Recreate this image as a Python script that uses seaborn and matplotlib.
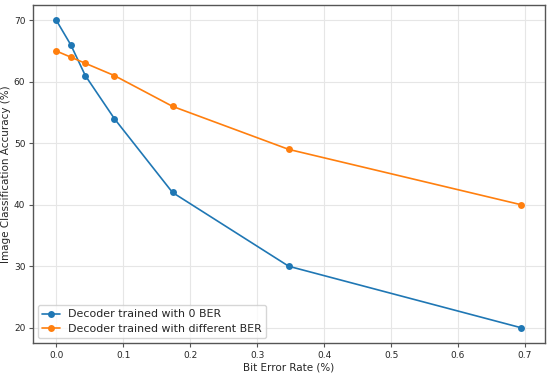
import matplotlib
matplotlib.use("Agg")
import matplotlib.pyplot as plt
import pandas as pd
import seaborn as sns

# ── Data ──────────────────────────────────────────────────────────────────────
BER = [0.0, 0.0217, 0.0434, 0.0868, 0.1736, 0.3472, 0.6944]
ACC_ZERO_BER = [70, 66, 61, 54, 42, 30, 20]
ACC_DIFF_BER = [65, 64, 63, 61, 56, 49, 40]
LABELS = ["Decoder trained with 0 BER", "Decoder trained with different BER"]

df = pd.concat([
    pd.DataFrame({"ber": BER, "acc": ACC_ZERO_BER, "model": LABELS[0]}),
    pd.DataFrame({"ber": BER, "acc": ACC_DIFF_BER, "model": LABELS[1]}),
])

# ── Plot ──────────────────────────────────────────────────────────────────────
sns.set_style("whitegrid", {
    "axes.edgecolor": "#555555",
    "grid.color": "#e6e6e6",
    "xtick.bottom": True,
    "ytick.left": True,
})
plt.rcParams["font.family"] = ["DejaVu Sans"]

fig, ax = plt.subplots(figsize=(5.5, 3.73), dpi=100)
sns.lineplot(
    data=df, x="ber", y="acc", hue="model",
    palette=["#1f77b4", "#ff7f0e"],
    marker="o", markersize=5, markeredgewidth=0,
    linewidth=1.2, ax=ax,
)

ax.set_xlabel("Bit Error Rate (%)", fontsize=7.5, labelpad=2)
ax.set_ylabel("Image Classification Accuracy (%)", fontsize=7.5, labelpad=2)
ax.tick_params(axis="both", labelsize=6.5, length=3, pad=2.5, color="#555555")
ax.set_xticks([0.0, 0.1, 0.2, 0.3, 0.4, 0.5, 0.6, 0.7])
ax.set_yticks([20, 30, 40, 50, 60, 70])
for s in ax.spines.values():
    s.set_linewidth(1.0)

ax.legend(title=None, loc="lower left", fontsize=7.9, frameon=True,
          borderaxespad=0.45, handlelength=1.6, handletextpad=0.7,
          labelspacing=0.4)

fig.subplots_adjust(left=0.06, right=0.99, top=0.987, bottom=0.08)
fig.savefig("out.png", dpi=100)
